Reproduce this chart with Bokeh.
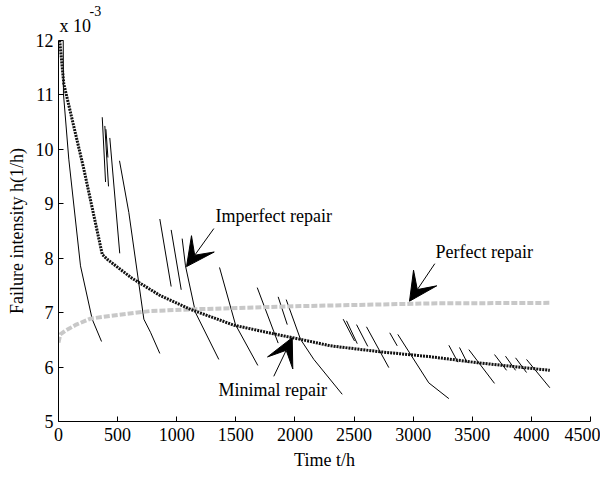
from bokeh.plotting import figure
from bokeh.models import Range1d, FixedTicker, Label, Arrow, VeeHead, Title
from bokeh.embed import file_html
from bokeh.resources import INLINE

# ---- data (units of 1e-3 1/h) ----
minimal_t = [10, 45, 214, 370, 412, 623, 863, 1117, 1483, 1821, 2047, 2301, 2724, 3147, 3542, 4156]
minimal_h = [12.0, 11.2, 9.64, 8.07, 7.98, 7.63, 7.31, 7.06, 6.77, 6.61, 6.51, 6.39, 6.28, 6.19, 6.08, 5.94]

perfect_t = [0, 15, 60, 150, 271, 400, 778, 1117, 2047, 3147, 4156]
perfect_h = [6.45, 6.6, 6.67, 6.78, 6.89, 6.93, 7.03, 7.06, 7.12, 7.17, 7.18]

imperfect_t = [
    [0, 40, 42, 87, 186, 285, 364],
    [370, 398],
    [392, 423],
    [401, 418],
    [434, 518],
    [516, 595, 722, 778, 857],
    [857, 953],
    [953, 1038],
    [1046, 1074, 1159, 1356],
    [1362, 1497, 1686],
    [1681, 1858],
    [1858, 1935],
    [1926, 2047, 2160, 2400],
    [2408, 2504],
    [2436, 2527],
    [2521, 2616],
    [2605, 2794],
    [2802, 2865],
    [2870, 3132, 3302],
    [3302, 3378],
    [3392, 3457],
    [3471, 3688],
    [3688, 3790],
    [3781, 3866],
    [3866, 3959],
    [3959, 4156],
]
imperfect_h = [
    [12.0, 12.0, 11.02, 9.82, 7.86, 6.88, 6.47],
    [10.59, 9.40],
    [10.43, 9.32],
    [10.37, 9.85],
    [10.21, 8.09],
    [9.79, 8.84, 6.88, 6.64, 6.25],
    [8.72, 7.48],
    [8.52, 7.42],
    [8.36, 7.86, 7.0, 6.14],
    [7.83, 6.78, 6.03],
    [7.46, 6.44],
    [7.29, 6.78],
    [7.24, 6.51, 6.14, 5.50],
    [6.88, 6.48],
    [6.85, 6.43],
    [6.78, 6.38],
    [6.74, 5.99],
    [6.63, 6.39],
    [6.60, 5.71, 5.42],
    [6.40, 6.09],
    [6.36, 6.08],
    [6.32, 5.70],
    [6.23, 5.94],
    [6.20, 5.94],
    [6.17, 5.90],
    [6.14, 5.62],
]

x_ticks = [0, 500, 1000, 1500, 2000, 2500, 3000, 3500, 4000, 4500]
y_ticks = [5, 6, 7, 8, 9, 10, 11, 12]

FONT = "Liberation Serif"

p = figure(output_backend="svg", toolbar_location=None, title=None,
           frame_width=532, frame_height=381,
           min_border_left=58, min_border_right=10,
           min_border_top=0, min_border_bottom=50,
           x_range=Range1d(0, 4500), y_range=Range1d(5, 12))
p.background_fill_color = "white"
p.border_fill_color = "white"
p.outline_line_color = None
p.grid.visible = False

for ax in (p.xaxis[0], p.yaxis[0]):
    ax.major_tick_in = 5
    ax.major_tick_out = 0
    ax.minor_tick_line_color = None
    ax.axis_line_color = "black"
    ax.major_tick_line_color = "black"
    ax.major_label_text_font = FONT
    ax.major_label_text_font_size = "18px"
    ax.major_label_text_color = "black"
    ax.axis_label_text_font = FONT
    ax.axis_label_text_font_size = "18px"
    ax.axis_label_text_font_style = "normal"
    ax.axis_label_text_color = "black"

p.xaxis.ticker = FixedTicker(ticks=x_ticks)
p.yaxis.ticker = FixedTicker(ticks=y_ticks)
p.xaxis.major_label_standoff = 6
p.yaxis.major_label_standoff = 5
p.xaxis.axis_label = "Time t/h"
p.yaxis.axis_label = "Failure intensity h(1/h)"
p.xaxis.axis_label_standoff = 6
p.yaxis.axis_label_standoff = 6

# exponent marker as titles above the frame (stacked outward from the frame)
p.add_layout(Title(text="x 10", align="left", offset=1, standoff=9,
                   text_font=FONT, text_font_size="18px",
                   text_font_style="normal", text_color="black"), "above")
p.add_layout(Title(text="-3", align="left", offset=31, standoff=-12,
                   text_font=FONT, text_font_size="14px",
                   text_font_style="normal", text_color="black"), "above")
p.add_layout(Title(text=" ", align="left", offset=0, standoff=-8,
                   text_font=FONT, text_font_size="14px",
                   text_font_style="normal", text_color="white"), "above")

# curves
p.multi_line(xs=imperfect_t, ys=imperfect_h, line_color="black", line_width=1)
p.line(perfect_t, perfect_h, line_color="#c8c8c8", line_width=4, line_dash="6 2")
p.line(minimal_t, minimal_h, line_color="#111111", line_width=3, line_dash="2 1")

# annotations
def note(txt, x, y):
    p.add_layout(Label(x=x, y=y, text=txt, text_font=FONT, text_font_size="18px",
                       text_color="black", text_align="left", text_baseline="middle"))

def arrow(x0, y0, x1, y1):
    p.add_layout(Arrow(end=VeeHead(size=28, fill_color="black", line_color="black"),
                       x_start=x0, y_start=y0, x_end=x1, y_end=y1,
                       line_color="black", line_width=1))

note("Imperfect repair", 1328, 8.78)
arrow(1314, 8.545, 1083, 7.846)
note("Minimal repair", 1353, 5.57)
arrow(1821, 5.83, 1977, 6.54)
note("Perfect repair", 3189, 8.11)
arrow(3183, 7.90, 2969, 7.21)

open("out.html", "w").write(file_html(p, INLINE))
